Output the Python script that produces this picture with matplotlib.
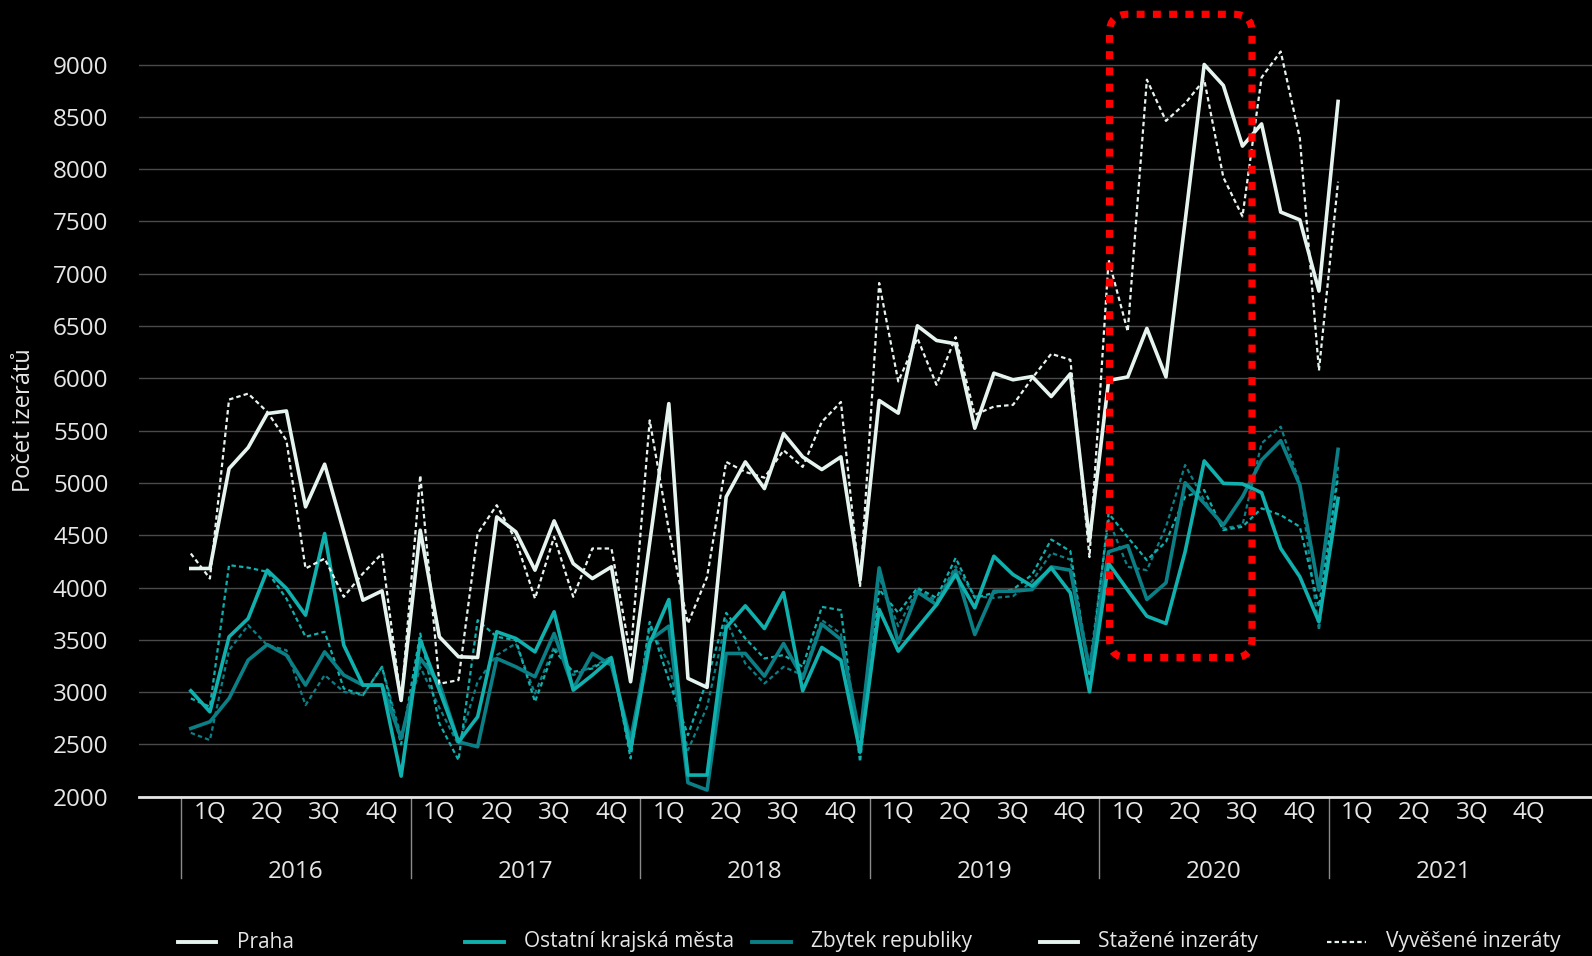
import numpy as np
import matplotlib.pyplot as plt
import matplotlib.transforms as mtransforms
from matplotlib.patches import FancyBboxPatch
from matplotlib.lines import Line2D

plt.rcParams['font.family'] = ['Open Sans', 'DejaVu Sans']

# monthly data, Jan 2016 .. Jan 2021
years = [2016, 2017, 2018, 2019, 2020, 2021]
quarters = ['1Q', '2Q', '3Q', '4Q']

praha_stazene = [4182, 4182, 5137, 5338, 5663, 5688, 4771, 5179, 4532, 3879, 3968, 2920,
                 4548, 3529, 3338, 3331, 4675, 4532, 4166, 4637, 4229, 4086, 4198, 3099,
                 4430, 5758, 3131, 3045, 4867, 5201, 4946, 5472, 5249, 5128, 5249, 4070,
                 5788, 5667, 6502, 6362, 6330, 5523, 6049, 5986, 6017, 5826, 6043, 4450,
                 5980, 6013, 6477, 6013, 7500, 9000, 8800, 8220, 8432, 7589, 7515, 6834,
                 8647]
praha_vyvesene = [4325, 4086, 5797, 5854, 5679, 5408, 4182, 4277, 3911, 4134, 4325, 2908,
                  5073, 3080, 3115, 4516, 4787, 4452, 3895, 4484, 3911, 4373, 4373, 3350,
                  5598, 4550, 3656, 4100, 5201, 5105, 5050, 5312, 5153, 5583, 5774, 4006,
                  6911, 5970, 6384, 5938, 6394, 5651, 5730, 5746, 6001, 6234, 6177, 4291,
                  7133, 6448, 8855, 8461, 8627, 8855, 7921, 7548, 8876, 9124, 8295, 6075,
                  7880]
ostatni_stazene = [3013, 2812, 3529, 3704, 4166, 3991, 3736, 4516, 3449, 3067, 3067, 2197,
                   3497, 3019, 2525, 2764, 3577, 3513, 3385, 3768, 3019, 3163, 3322, 2446,
                   3465, 3885, 2207, 2207, 3618, 3825, 3608, 3952, 3013, 3427, 3306, 2430,
                   3790, 3392, 3615, 3837, 4124, 3806, 4299, 4124, 4013, 4188, 3949, 3003,
                   4230, 3975, 3726, 3656, 4342, 5210, 4996, 4990, 4907, 4374, 4103, 3672,
                   4852]
ostatni_vyvesene = [2940, 2860, 4214, 4190, 4150, 3895, 3529, 3577, 3035, 2971, 3242, 2500,
                    3560, 2700, 2350, 3688, 3529, 3497, 2908, 3401, 3194, 3226, 3338, 2366,
                    3672, 3115, 2589, 3115, 3758, 3513, 3322, 3354, 3242, 3815, 3784, 2334,
                    3981, 3758, 3997, 3901, 4283, 3901, 3949, 3981, 4124, 4459, 4347, 3153,
                    4709, 4480, 4262, 4438, 4868, 4932, 4549, 4581, 4757, 4693, 4581, 3816,
                    5060]
zbytek_stazene = [2653, 2717, 2940, 3306, 3455, 3354, 3067, 3385, 3163, 3067, 3067, 2557,
                  3322, 3083, 2525, 2478, 3322, 3242, 3147, 3561, 3035, 3370, 3258, 2541,
                  3497, 3631, 2134, 2064, 3370, 3370, 3153, 3465, 3131, 3650, 3503, 2573,
                  4188, 3471, 3958, 3837, 4166, 3551, 3965, 3965, 3981, 4197, 4166, 3216,
                  4342, 4400, 3886, 4045, 5002, 4805, 4597, 4868, 5219, 5404, 4980, 3975,
                  5321]
zbytek_vyvesene = [2611, 2541, 3400, 3640, 3449, 3401, 2876, 3163, 3003, 2971, 3242, 2573,
                   3242, 2850, 2494, 3100, 3354, 3465, 2987, 3433, 3163, 3242, 3338, 2446,
                   3624, 3274, 2446, 2860, 3688, 3274, 3083, 3242, 3163, 3688, 3561, 2414,
                   4100, 3630, 3981, 3870, 4204, 3917, 3901, 3917, 4060, 4331, 4267, 3248,
                   4645, 4198, 4166, 4581, 5171, 4836, 4565, 4597, 5379, 5538, 4996, 3592,
                   5155]

# highlighted period (month index from, to; values from, to)
highlight = (48.05, 55.5, 3330, 9480)

c_praha = '#e6f4ef'
c_ostatni = '#0fb0ad'
c_zbytek = '#0b7f86'
txt = '#e6e6e6'

fig = plt.figure(figsize=(15.92, 9.56), dpi=100, facecolor='black')
ax = fig.add_axes([0.0873, 0.1666, 0.9127, 0.8261])
ax.set_facecolor('black')

x = np.arange(len(praha_stazene))
dots = (0, (2, 1.4))
ax.plot(x, zbytek_vyvesene, color=c_zbytek, lw=1.6, ls=dots, zorder=3)
ax.plot(x, ostatni_vyvesene, color=c_ostatni, lw=1.6, ls=dots, zorder=3)
ax.plot(x, zbytek_stazene, color=c_zbytek, lw=2.6, zorder=4)
ax.plot(x, ostatni_stazene, color=c_ostatni, lw=2.6, zorder=4)
ax.plot(x, praha_vyvesene, color=c_praha, lw=1.6, ls=dots, zorder=5)
ax.plot(x, praha_stazene, color=c_praha, lw=2.6, zorder=6)

ax.set_xlim(-2.71, 73.28)
ax.set_ylim(2000, 9550)
ax.set_yticks(range(2000, 9001, 500))
ax.grid(axis='y', color='#4a4a4a', lw=1)
ax.set_axisbelow(True)
for s in ['top', 'right', 'left']:
    ax.spines[s].set_visible(False)
ax.spines['bottom'].set_color(txt)
ax.spines['bottom'].set_linewidth(2)
ax.tick_params(axis='y', length=0, pad=22, labelsize=17.5, labelcolor=txt)

qpos = [12 * k + 3 * q + 1 for k in range(len(years)) for q in range(4)]
ax.set_xticks(qpos, quarters * len(years))
ax.tick_params(axis='x', length=0, pad=3, labelsize=17.5, labelcolor=txt)

trans = mtransforms.blended_transform_factory(ax.transData, ax.transAxes)
for k, yr in enumerate(years):
    ax.text(12 * k + 5.5, -0.095, str(yr), transform=trans, ha='center', va='center',
            fontsize=17.5, color=txt)
    ax.plot([12 * k - 0.5] * 2, [0, -0.103], transform=trans, color='#8a8a8a',
            lw=1, clip_on=False)

# red dotted rounded box
x0, x1, y0, y1 = highlight
px_x = ax.transData.transform((1, 0))[0] - ax.transData.transform((0, 0))[0]
px_y = ax.transData.transform((0, 1))[1] - ax.transData.transform((0, 0))[1]
box = FancyBboxPatch((x0, y0), x1 - x0, y1 - y0,
                     boxstyle='round,pad=0,rounding_size=0.95',
                     mutation_aspect=px_x / px_y, fill=False, edgecolor='#ff0000',
                     lw=5.2, ls=(0, (1.1, 1.15)), capstyle='butt', zorder=8, clip_on=False)
ax.add_patch(box)

fig.text(24 / 1592, 1 - 420 / 956, 'Počet izerátů', rotation=90, ha='center',
         va='center', fontsize=17, color=txt)

# legend row
leg = [('Praha', c_praha, '-'), ('Ostatní krajská města', c_ostatni, '-'),
       ('Zbytek republiky', c_zbytek, '-'), ('Stažené inzeráty', c_praha, '-'),
       ('Vyvěšené inzeráty', c_praha, dots)]
ly = 1 - 942 / 956
for k, (lab, col, ls) in enumerate(leg):
    lx = (177.7 + 287.3 * k) / 1592
    lw = 1.6 if ls == dots else 2.8
    fig.add_artist(Line2D([lx, lx + 38.6 / 1592], [ly, ly], transform=fig.transFigure,
                          color=col, lw=lw, ls=ls))
    fig.text(lx + 58.9 / 1592, ly, lab, ha='left', va='center', fontsize=15, color=txt)

fig.savefig('out.png', dpi=100, facecolor='black')
